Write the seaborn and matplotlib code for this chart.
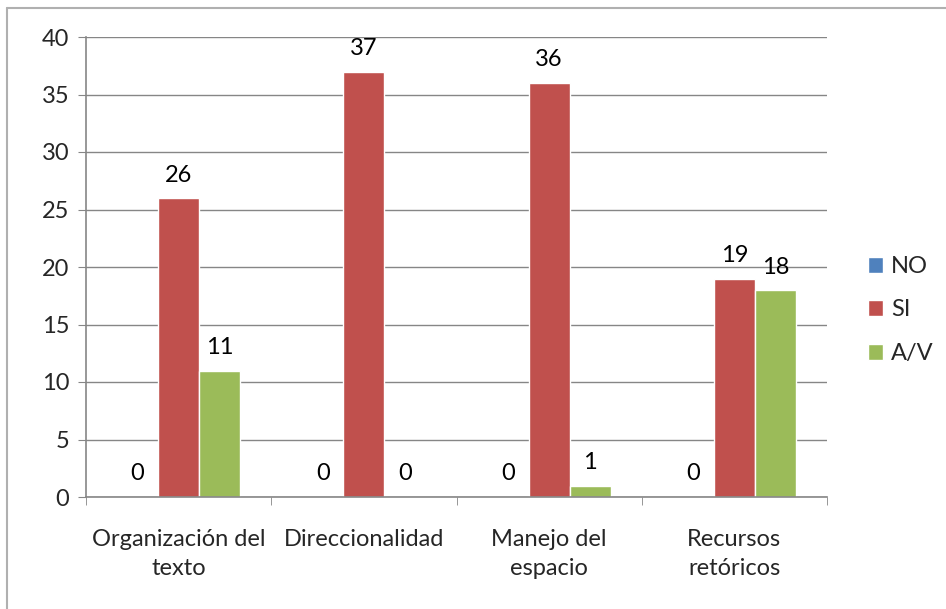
import seaborn as sb
import matplotlib.pyplot as plt
import matplotlib.lines as mlines
import numpy as np
import pandas as pd

categorias = ['Organización del\ntexto', 'Direccionalidad', 'Manejo del\nespacio', 'Recursos\nretóricos']
series = ['NO', 'SI', 'A/V']
valores_no = [0, 0, 0, 0]
valores_si = [26, 37, 36, 19]
valores_av = [11, 0, 1, 18]
colores = ['#4F81BD', '#C0504D', '#9BBB59']

df = pd.DataFrame({
    'categoria': categorias * 3,
    'serie': ['NO'] * 4 + ['SI'] * 4 + ['A/V'] * 4,
    'valor': valores_no + valores_si + valores_av,
})

sb.set_style('white')
plt.rcParams['font.family'] = ['Lato', 'DejaVu Sans']
gris = '#868686'
fs = 17

f = plt.figure(figsize=(9.46, 6.09), dpi=100)
ax = f.add_axes([86 / 946, (609 - 497) / 609, (827 - 86) / 946, (497 - 37) / 609])
sb.barplot(data=df, x='categoria', y='valor', hue='serie', order=categorias,
           hue_order=series, palette=colores, width=0.665, saturation=1,
           ax=ax, legend=True)

for c in ax.containers:
    ax.bar_label(c, padding=9, fontsize=fs, color='black')

ax.set_ylim(0, 40)
ax.set_xlim(-0.5, 3.5)
ax.set_yticks(np.arange(0, 41, 5))
ax.yaxis.grid(True, color=gris, linewidth=1)
ax.set_axisbelow(True)
ax.set_xlabel('')
ax.set_ylabel('')
for s in ['top', 'right']:
    ax.spines[s].set_visible(False)
for s in ['left', 'bottom']:
    ax.spines[s].set_color(gris)
    ax.spines[s].set_linewidth(1.2)
ax.tick_params(axis='y', length=6, color=gris, labelsize=fs, pad=6, left=True)
ax.set_xticks(np.arange(4))
ax.set_xticklabels(categorias, fontsize=fs, linespacing=1.5)
ax.tick_params(axis='x', length=0, pad=23)
ax.set_xticks(np.arange(-0.5, 4, 1), minor=True)
ax.tick_params(axis='x', which='minor', length=6, color=gris, bottom=True)

leg = ax.legend(loc='center left', bbox_to_anchor=(1.055, (497 - 310) / 460), frameon=False,
                fontsize=fs, handlelength=0.65, handleheight=0.65,
                labelspacing=0.95, handletextpad=0.35, borderpad=0, borderaxespad=0)

# borde exterior del grafico
f.add_artist(mlines.Line2D([7 / 946, 7 / 946], [0, 1 - 8 / 609], color='#B0B0B0', lw=1.5))
f.add_artist(mlines.Line2D([7 / 946, 1], [1 - 8 / 609, 1 - 8 / 609], color='#B0B0B0', lw=1.5))

f.savefig('out.png', dpi=100)
